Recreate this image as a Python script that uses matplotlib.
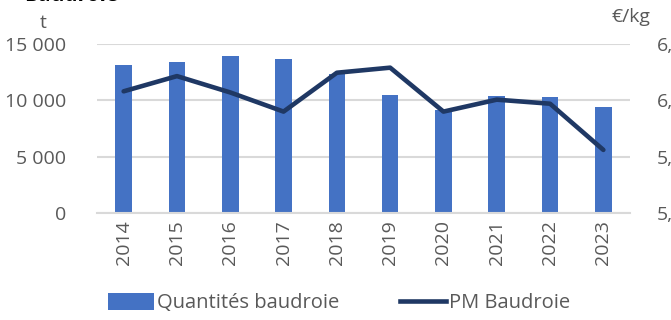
import matplotlib
matplotlib.use("Agg")
import matplotlib.pyplot as plt
import matplotlib.ticker as mticker
from matplotlib.patches import Patch
from matplotlib.lines import Line2D

plt.rcParams['font.family'] = ['Open Sans', 'DejaVu Sans']

years = ['2014', '2015', '2016', '2017', '2018', '2019', '2020', '2021', '2022', '2023']
quantites = [13160, 13360, 13950, 13690, 12300, 10440, 9110, 10380, 10290, 9410]
prix_moyen = [6.08, 6.215, 6.07, 5.90, 6.245, 6.29, 5.90, 6.006, 5.97, 5.56]

bar_color = '#4472C4'
line_color = '#1F3864'
text_color = '#595959'
grid_color = '#D9D9D9'
fs = 14

fig = plt.figure(figsize=(6.71, 3.2), dpi=100)
ax = fig.add_axes([97 / 671, 1 - 213 / 320, 533 / 671, 169 / 320])
ax2 = ax.twinx()

x = range(len(years))
ax.bar(x, quantites, width=0.31, color=bar_color, zorder=2)
ax2.plot(x, prix_moyen, color=line_color, linewidth=3.3, solid_capstyle='round', zorder=3)

ax.set_xlim(-0.5, len(years) - 0.5)
ax.set_ylim(0, 15000)
ax.set_yticks([0, 5000, 10000, 15000])
ax.yaxis.set_major_formatter(mticker.FuncFormatter(lambda v, p: f"{int(v):,}".replace(',', ' ')))
ax2.set_ylim(5.0, 6.5)
ax2.set_yticks([5.0, 5.5, 6.0, 6.5])
ax2.yaxis.set_major_formatter(mticker.FuncFormatter(lambda v, p: f"{v:.1f}".replace('.', ',')))

ax.set_xticks(list(x))
ax.set_xticklabels(years, rotation=90)
ax.grid(axis='y', color=grid_color, linewidth=1.5, zorder=0)
ax.set_axisbelow(True)

for a in (ax, ax2):
    for s in a.spines.values():
        s.set_visible(False)
    a.tick_params(length=0, colors=text_color, labelsize=fs)
ax.spines['bottom'].set_visible(True)
ax.spines['bottom'].set_color(grid_color)
ax.spines['bottom'].set_linewidth(1.5)
ax.tick_params(axis='y', pad=22)
ax.tick_params(axis='x', pad=5)
ax2.tick_params(axis='y', pad=19)

# title sits mostly above the top edge
fig.text(24 / 671, 1 - 1 / 320, 'Baudroie', fontsize=15, fontweight='bold',
         color='#000000', va='baseline')
fig.text(40 / 671, 1 - 28 / 320, 't', fontsize=fs, color=text_color, va='baseline')
fig.text(612 / 671, 1 - 22 / 320, '€/kg', fontsize=fs, color=text_color, va='baseline')

handles = [Patch(facecolor=bar_color, label='Quantités baudroie'),
           Line2D([0], [0], color=line_color, linewidth=3.3, label='PM Baudroie')]
fig.legend(handles=handles, loc='center', bbox_to_anchor=(0.505, 1 - 303 / 320), ncol=2,
           frameon=False, prop={'size': 14.5}, labelcolor=text_color, handlelength=2.3,
           handleheight=0.9, handletextpad=0.15, columnspacing=3.0)

fig.savefig('out.png', dpi=100)
